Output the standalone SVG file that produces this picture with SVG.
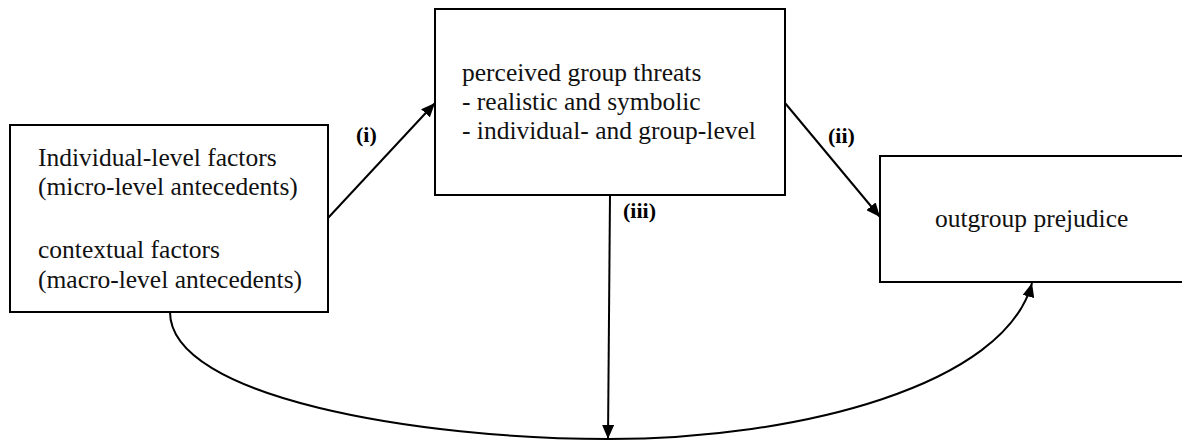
<svg xmlns="http://www.w3.org/2000/svg" width="1182" height="441" viewBox="0 0 1182 441">
  <style>
    .box { fill: #ffffff; stroke: #000000; stroke-width: 2; }
    .t { font-family: 'Liberation Serif', Tinos, 'Times New Roman', 'DejaVu Serif', serif; font-size: 25.5px; fill: #111111; }
    .lbl { font-family: 'Liberation Serif', Tinos, 'Times New Roman', 'DejaVu Serif', serif; font-size: 22px; font-weight: bold; fill: #000000; }
    .conn { fill: none; stroke: #000000; stroke-width: 2; }
  </style>
  <defs>
    <marker id="arr" viewBox="0 0 14 12" refX="14" refY="6" markerWidth="14" markerHeight="12" markerUnits="userSpaceOnUse" orient="auto">
      <path d="M0,0 L14,6 L0,12 Z" fill="#000000"/>
    </marker>
  </defs>
  <rect width="1182" height="441" fill="#ffffff"/>
  <g id="connectors">
    <line class="conn" x1="328" y1="218" x2="435" y2="103" marker-end="url(#arr)"/>
    <line class="conn" x1="785" y1="103" x2="880" y2="217" marker-end="url(#arr)"/>
    <line class="conn" x1="610" y1="195" x2="608" y2="439" marker-end="url(#arr)"/>
    <path class="conn" d="M170,312 C170,398 420,439 608,439 C800,439 1005,385 1032,283" marker-end="url(#arr)"/>
    <text class="lbl" x="356" y="142">(i)</text>
    <text class="lbl" x="828" y="143">(ii)</text>
    <text class="lbl" x="623" y="218">(iii)</text>
  </g>
  <g id="node-antecedents">
    <rect class="box" x="10" y="125" width="318" height="187"/>
    <text class="t" x="38" y="166">Individual-level factors</text>
    <text class="t" x="38" y="195">(micro-level antecedents)</text>
    <text class="t" x="38" y="258">contextual factors</text>
    <text class="t" x="38" y="288">(macro-level antecedents)</text>
  </g>
  <g id="node-threats">
    <rect class="box" x="435" y="9" width="350" height="186"/>
    <text class="t" x="462" y="81">perceived group threats</text>
    <text class="t" x="462" y="110">- realistic and symbolic</text>
    <text class="t" x="462" y="139">- individual- and group-level</text>
  </g>
  <g id="node-prejudice">
    <rect class="box" x="880" y="156" width="310" height="126"/>
    <text class="t" x="935" y="227">outgroup prejudice</text>
  </g>
</svg>
